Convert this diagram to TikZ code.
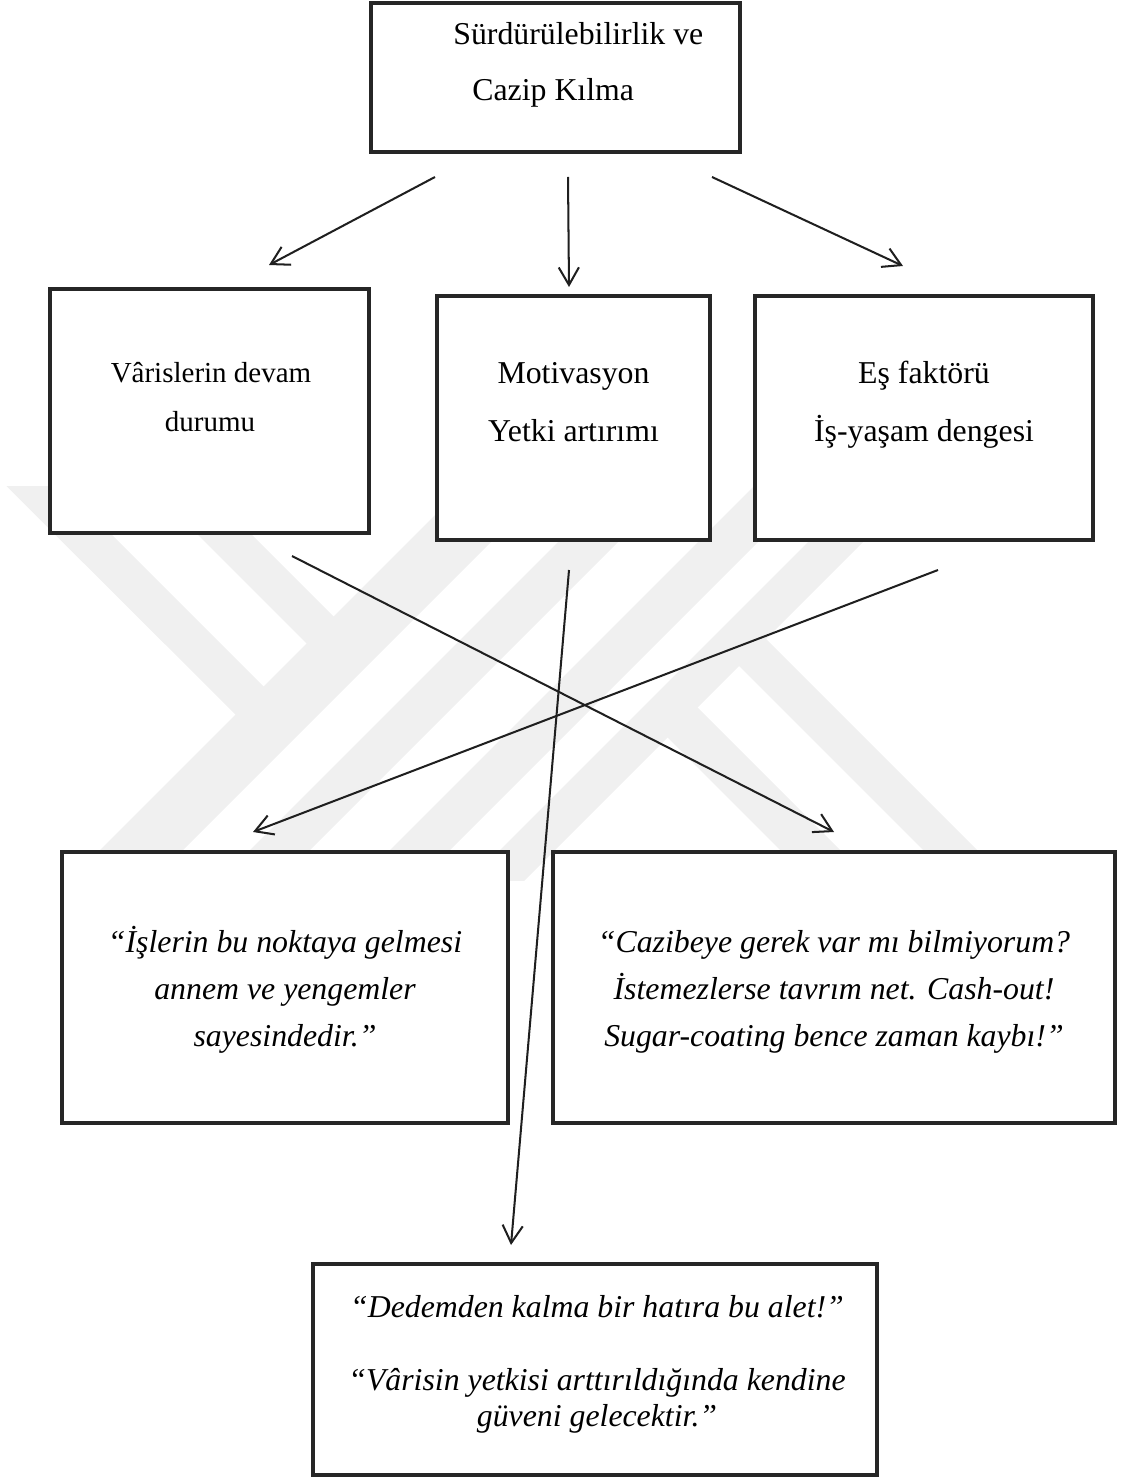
\documentclass[tikz,border=0pt]{standalone}
\usepackage{fontspec}
\setmainfont{Liberation Serif}
\usetikzlibrary{arrows.meta}
\begin{document}
\begin{tikzpicture}[x=0.02cm,y=-0.02cm,
  box/.style={draw=black!85,line width=2.4pt,fill=white,rectangle,inner sep=0pt},
  lbl/.style={anchor=base,inner sep=0pt,font=\fontsize{18.1pt}{21pt}\selectfont},
  slbl/.style={anchor=base,inner sep=0pt,font=\fontsize{16.5pt}{19pt}\selectfont},
  qlbl/.style={anchor=base,inner sep=0pt,font=\fontsize{18.1pt}{21pt}\selectfont\itshape},
  arr/.style={draw=black!88,line width=1.15pt,-{Straight Barb[length=10pt,width=11.5pt,line width=1.15pt]}},
  wm/.style={fill=black!6}]
\useasboundingbox (0,0) rectangle (1123,1479);

% faint striped emblem in the background
\begin{scope}
  \clip (0,486) rectangle (1123,880);
  \fill[wm] (-80,400) -- (-23,400) -- (275,698) -- (247,726) -- cycle;
  \fill[wm] (63,400) -- (117,400) -- (345,628) -- (318,655) -- cycle;
  \fill[wm] (0,950) -- (83,950) -- (633,400) -- (550,400) -- cycle;
  \fill[wm] (150,950) -- (210,950) -- (760,400) -- (700,400) -- cycle;
  \fill[wm] (290,950) -- (350,950) -- (900,400) -- (840,400) -- cycle;
  \fill[wm] (400,950) -- (455,950) -- (1005,400) -- (950,400) -- cycle;
  \fill[wm] (655,725) -- (685,695) -- (940,950) -- (880,950) -- cycle;
  \fill[wm] (727,654) -- (754,627) -- (1077,950) -- (1023,950) -- cycle;
\end{scope}

% boxes
\node[box,minimum width=7.38cm,minimum height=2.98cm] (top) at (555.5,77.5) {};
\node[box,minimum width=6.38cm,minimum height=4.88cm] (heirs) at (209.5,411) {};
\node[box,minimum width=5.46cm,minimum height=4.88cm] (motiv) at (573.5,418) {};
\node[box,minimum width=6.76cm,minimum height=4.88cm] (spouse) at (924,418) {};
\node[box,minimum width=8.92cm,minimum height=5.42cm] (qleft) at (285,987.5) {};
\node[box,minimum width=11.24cm,minimum height=5.42cm] (qright) at (834,987.5) {};
\node[box,minimum width=11.28cm,minimum height=4.22cm] (qbottom) at (595,1369.5) {};

% texts
\node[lbl,anchor=base west] (topA) at (453,45) {Sürdürülebilirlik ve};
\node[lbl,anchor=base west] (topB) at (472,101) {Cazip Kılma};

\node[slbl] (heirsA) at (211,383) {Vârislerin devam};
\node[slbl] (heirsB) at (210,432) {durumu};

\node[lbl] (motivA) at (573.5,384) {Motivasyon};
\node[lbl] (motivB) at (573.5,441) {Yetki artırımı};

\node[lbl] (spouseA) at (924,384) {Eş faktörü};
\node[lbl] (spouseB) at (924,441) {İş-yaşam dengesi};

\node[qlbl] (qleftA) at (285,952) {“İşlerin bu noktaya gelmesi};
\node[qlbl] (qleftB) at (285,999) {annem ve yengemler};
\node[qlbl] (qleftC) at (285,1046) {sayesindedir.”};

\node[qlbl] (qrightA) at (834,952) {“Cazibeye gerek var mı bilmiyorum?};
\node[qlbl] (qrightB) at (834,999) {İstemezlerse tavrım net. Cash-out!};
\node[qlbl] (qrightC) at (834,1046) {Sugar-coating bence zaman kaybı!”};

\node[qlbl] (qbottomA) at (597,1317) {“Dedemden kalma bir hatıra bu alet!”};
\node[qlbl] (qbottomB) at (597,1390) {“Vârisin yetkisi arttırıldığında kendine};
\node[qlbl] (qbottomC) at (597,1426) {güveni gelecektir.”};

% connector end points
\coordinate (s1) at (435,177);  \coordinate (e1) at (269,265);
\coordinate (s2) at (568,177);  \coordinate (e2) at (569,287);
\coordinate (s3) at (712,177);  \coordinate (e3) at (903,266);
\coordinate (s4) at (292,556);  \coordinate (e4) at (834,832);
\coordinate (s5) at (938,570);  \coordinate (e5) at (253,832);
\coordinate (s6) at (569,570);  \coordinate (e6) at (511,1245);

% connectors
\draw[arr] (s1) -- (e1);
\draw[arr] (s2) -- (e2);
\draw[arr] (s3) -- (e3);
\draw[arr] (s4) -- (e4);
\draw[arr] (s5) -- (e5);
\draw[arr] (s6) -- (e6);
\end{tikzpicture}
\end{document}
